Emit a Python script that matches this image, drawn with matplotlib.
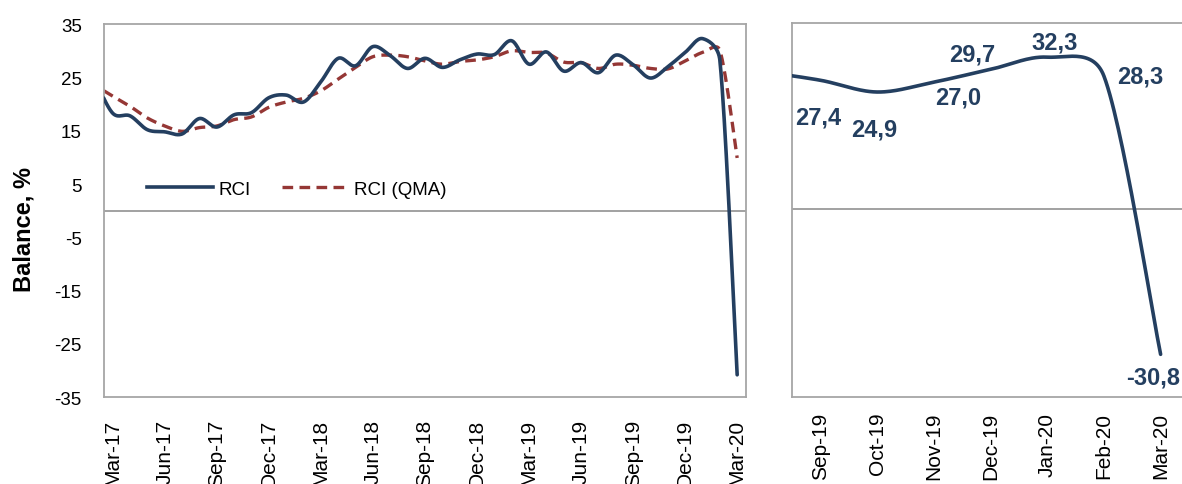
import matplotlib
matplotlib.use("Agg")
import matplotlib.pyplot as plt
import numpy as np
from matplotlib.lines import Line2D

plt.rcParams["font.family"] = ["Liberation Sans", "DejaVu Sans"]
plt.rcParams["axes.unicode_minus"] = False

BLUE = "#243F60"
RED = "#953735"
FRAME_GREY = "#A6A6A6"
ZERO_GREY = "#9A9A9A"

# monthly values Feb-17 .. Mar-20 (Feb-17 sits just left of the visible window)
rci = [24.5, 18.3, 17.8, 15.2, 14.8, 14.4, 17.3, 15.7, 18.0, 18.4, 21.2,
       21.7, 20.4, 24.2, 28.6, 27.2, 30.8, 29.1, 26.7, 28.6, 26.9, 28.3, 29.4,
       29.3, 31.9, 27.5, 29.8, 26.2, 27.8, 25.9, 29.2, 27.4, 24.9, 27.0, 29.7,
       32.3, 28.3, -30.8]
rci_qma = [23.5, 21.5, 19.6, 17.4, 15.9, 14.9, 15.6, 15.9, 17.1, 17.6, 19.4,
           20.4, 21.1, 22.5, 24.7, 26.9, 28.9, 29.2, 28.9, 28.1, 27.5, 28.0, 28.3,
           28.9, 30.0, 29.7, 29.6, 27.9, 27.8, 26.7, 27.5, 27.3, 26.7, 26.6, 28.1,
           29.7, 30.1, 9.9]

left_ticks = ["Mar-17", "Jun-17", "Sep-17", "Dec-17", "Mar-18", "Jun-18",
              "Sep-18", "Dec-18", "Mar-19", "Jun-19", "Sep-19", "Dec-19", "Mar-20"]
right_ticks = ["Sep-19", "Oct-19", "Nov-19", "Dec-19", "Jan-20", "Feb-20", "Mar-20"]

# last 8 months for the zoomed panel (Aug-19 is hidden off the left edge)
recent = rci[-8:]
# where each data label sits relative to its point, in pixels
label_offsets = [(-2.5, -37), (-3, -37), (24, -15), (-18, 15), (7, 15), (36, 0), (-7, -23)]


def smooth_line(ax, xs, ys, n=30):
    # Excel-like smoothed line: bezier legs of 1/6 of the neighbour chord, done in pixel space
    pts = ax.transData.transform(np.column_stack([xs, ys]))
    ext = np.vstack([pts[0], pts, pts[-1]])
    out = [pts[:1]]
    t = np.linspace(0, 1, n + 1)[1:, None]
    for i in range(len(pts) - 1):
        p0, p1, p2, p3 = ext[i], ext[i + 1], ext[i + 2], ext[i + 3]
        seg = np.hypot(*(p2 - p1))
        leg1 = (p2 - p0) / 6
        leg2 = (p3 - p1) / 6
        for leg in (leg1, leg2):
            ln = np.hypot(*leg)
            if ln > 0.5 * seg:
                leg *= 0.5 * seg / ln
        c1 = p1 + leg1
        c2 = p2 - leg2
        b = (1 - t) ** 3 * p1 + 3 * (1 - t) ** 2 * t * c1 + 3 * (1 - t) * t ** 2 * c2 + t ** 3 * p2
        out.append(b)
    data = ax.transData.inverted().transform(np.vstack(out))
    return data[:, 0], data[:, 1]


def style_frame(ax):
    for side in ("left", "top", "bottom", "right"):
        ax.spines[side].set_color(FRAME_GREY)
        ax.spines[side].set_linewidth(1.3)
    ax.axhline(0, color=ZERO_GREY, lw=1.3, zorder=1)


fig = plt.figure(figsize=(11.82, 4.85), dpi=100)

# left panel: full history
ax = fig.add_axes([0.088, 0.179, 0.543, 0.769])
x_all = np.arange(len(rci)) - 1
ax.set_xlim(-0.5, 36.5)
ax.set_ylim(-35, 35)
style_frame(ax)
sx, sy = smooth_line(ax, x_all, rci)
ax.plot(sx, sy, color=BLUE, lw=2.6, solid_capstyle="round", zorder=3)
qx, qy = smooth_line(ax, x_all, rci_qma)
ax.plot(qx, qy, color=RED, lw=2.4, dashes=(3.2, 1.9), zorder=2)
ax.set_yticks(range(-35, 36, 10))
ax.set_xticks(range(0, 37, 3))
ax.set_xticklabels(left_ticks, rotation=90)
ax.tick_params(axis="y", length=0, labelsize=13.5, pad=16)
ax.tick_params(axis="x", length=0, labelsize=15, pad=15.5)

handles = [Line2D([], [], color=BLUE, lw=2.6),
           Line2D([], [], color=RED, lw=2.4, dashes=(3.2, 1.9))]
ax.legend(handles, ["RCI", "RCI (QMA)"], loc="center left", bbox_to_anchor=(0.067, 0.558),
          frameon=False, ncol=2, fontsize=13.5, handlelength=3.5, handletextpad=0.3,
          columnspacing=1.7, borderpad=0, borderaxespad=0)

fig.text(0.02, 0.526, "Balance, %", rotation=90, ha="center", va="center",
         fontsize=17, fontweight="bold")

# right panel: last seven months
ax2 = fig.add_axes([0.670, 0.179, 0.3359, 0.771])
x_rec = np.arange(len(recent))
ax2.set_xlim(0.5, 7.5)
ax2.set_ylim(-39.9, 39.5)
style_frame(ax2)
ax2.spines["right"].set_visible(False)
rx, ry = smooth_line(ax2, x_rec, recent)
ax2.plot(rx, ry, color=BLUE, lw=2.6, solid_capstyle="round", zorder=3)
ax2.set_yticks([])
ax2.set_xticks(range(1, 8))
ax2.set_xticklabels(right_ticks, rotation=90)
ax2.tick_params(axis="x", length=0, labelsize=15, pad=10.5)

for xi, val, (dx, dy) in zip(x_rec[1:], recent[1:], label_offsets):
    ax2.annotate(f"{val:.1f}".replace(".", ","), (xi, val), xytext=(dx, dy),
                 textcoords="offset pixels", ha="center", va="center",
                 fontsize=17, fontweight="bold", color=BLUE)

fig.savefig("out.png", dpi=100)
